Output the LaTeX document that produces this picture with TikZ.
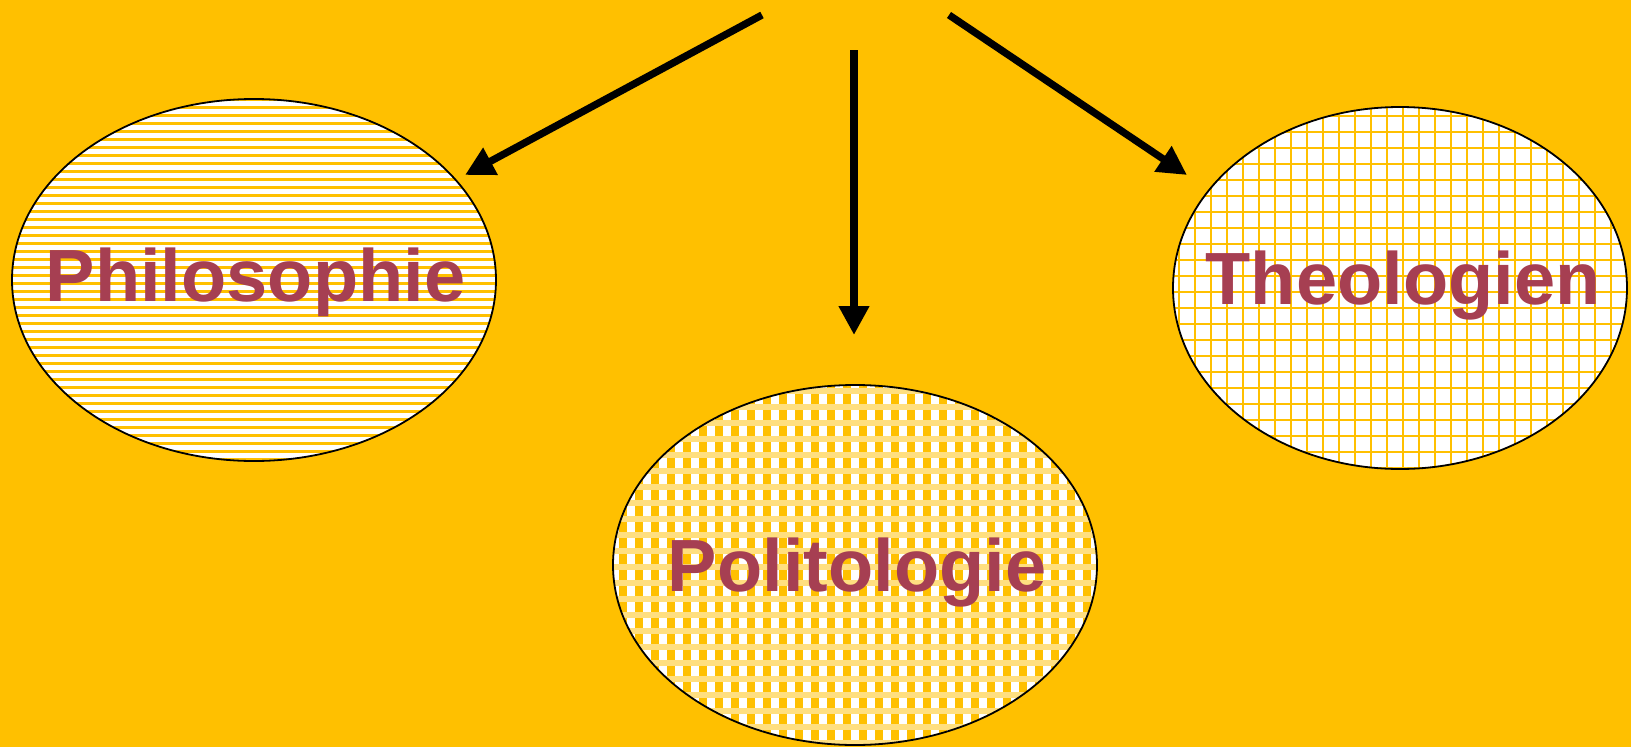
\documentclass[tikz,border=0pt]{standalone}
\usepackage{fontspec}
\setmainfont{Liberation Sans}
\usetikzlibrary{arrows.meta}
\definecolor{bg}{HTML}{FFC000}
\definecolor{txt}{HTML}{A63F52}
\begin{document}
\begin{tikzpicture}[x=1pt,y=-1pt,
  arr/.style={line width=7.3pt,-{Triangle[length=29pt,width=29pt]}},
  lbl/.style={font=\fontsize{74}{80}\selectfont\bfseries, text=txt, inner sep=0pt, anchor=base},
  rim/.style={draw=black, line width=1.8pt}]
\fill[bg] (0,0) rectangle (1631,747);
\useasboundingbox (0,0) rectangle (1631,747);
% centres
\coordinate (cphil) at (254,280);
\coordinate (cpol) at (855,565);
\coordinate (ctheo) at (1400,288);
% Philosophie: horizontal lines
\begin{scope}
  \clip (cphil) ellipse [x radius=242, y radius=181];
  \fill[white] (cphil) ellipse [x radius=242, y radius=181];
  \foreach \k in {0,...,46} \fill[bg] (0,{98.2+8*\k}) rectangle (520,{100.7+8*\k});
\end{scope}
\draw[rim] (cphil) ellipse [x radius=242, y radius=181];
% Politologie: plaid
\begin{scope}
  \clip (cpol) ellipse [x radius=242, y radius=180];
  \fill[white] (cpol) ellipse [x radius=242, y radius=180];
  \foreach \k in {-4,...,28} \fill[bg] ({666.7+16*\k},380) rectangle ({674.7+16*\k},750);
  \foreach \k in {-1,...,23} \fill[bg!50!white] (600,{388+16*\k}) rectangle (1110,{394+16*\k});
\end{scope}
\draw[rim] (cpol) ellipse [x radius=242, y radius=180];
% Theologien: grid
\begin{scope}
  \clip (ctheo) ellipse [x radius=227, y radius=181];
  \fill[white] (ctheo) ellipse [x radius=227, y radius=181];
  \foreach \k in {-2,...,28} \fill[bg] ({1193.8+16*\k},100) rectangle ({1196.3+16*\k},480);
  \foreach \k in {-2,...,22} \fill[bg] (1165,{130.5+16*\k}) rectangle (1640,{133+16*\k});
\end{scope}
\draw[rim] (ctheo) ellipse [x radius=227, y radius=181];
% labels
\node[lbl] (tphil) at (255.5,301) {Philosophie};
\node[lbl] (tpol) at (857,591) {Politologie};
\node[lbl] (ttheo) at (1403,304) {Theologien};
% arrows
\coordinate (s1) at (762,15);
\coordinate (e1) at (465,175);
\coordinate (s2) at (854,50);
\coordinate (e2) at (854,335);
\coordinate (s3) at (949,15);
\coordinate (e3) at (1187,175);
\draw[arr] (s1) -- (e1);
\draw[arr] (s2) -- (e2);
\draw[arr] (s3) -- (e3);
\end{tikzpicture}
\end{document}
